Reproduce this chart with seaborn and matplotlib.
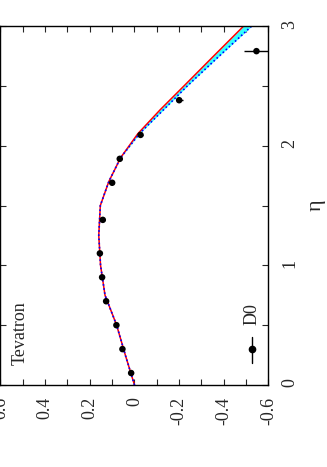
"""Rotated asymmetry vs eta plot (Tevatron, D0)."""

import matplotlib
matplotlib.use("Agg")
import matplotlib.pyplot as plt
from matplotlib.ticker import MultipleLocator
import pandas as pd
import seaborn as sns

# theory curves
eta_curve = [0.0, 0.25, 0.5, 0.75, 1.0, 1.25, 1.5, 1.7, 1.9, 2.1, 2.3, 2.5, 2.75, 3.0]
red_curve = [0.0, 0.041, 0.08, 0.132, 0.152, 0.16, 0.153, 0.115, 0.062, -0.015, -0.115, -0.222, -0.355, -0.489]
blue_curve = [0.0, 0.041, 0.08, 0.132, 0.152, 0.16, 0.153, 0.115, 0.062, -0.022, -0.13, -0.237, -0.38, -0.525]

# D0 data points
d0_eta = [0.1, 0.3, 0.5, 0.7, 0.9, 1.1, 1.38, 1.69, 1.89, 2.09, 2.38, 2.79]
d0_val = [0.015, 0.054, 0.081, 0.127, 0.145, 0.155, 0.142, 0.100, 0.066, -0.027, -0.20, -0.546]
d0_err = [0.008, 0.008, 0.008, 0.008, 0.008, 0.008, 0.01, 0.01, 0.01, 0.012, 0.015, 0.055]

val_ticks = [0.6, 0.4, 0.2, 0.0, -0.2, -0.4, -0.6]
val_labels = ["0.6", "0.4", "0.2", "0", "-0.2", "-0.4", "-0.6"]
eta_ticks = [0, 1, 2, 3]
eta_labels = ["0", "1", "2", "3"]

sns.set_theme(style="ticks")
plt.rcParams["font.family"] = ["Liberation Serif", "DejaVu Serif"]
plt.rcParams["axes.unicode_minus"] = False

curves = pd.DataFrame({"eta": eta_curve, "red": red_curve, "blue": blue_curve})
points = pd.DataFrame({"eta": d0_eta, "val": d0_val, "err": d0_err})

fig = plt.figure(figsize=(3.27, 4.67), dpi=100)
ax = fig.add_axes([0.0015, 0.1756, 0.8196, 0.7687])

ax.fill_betweenx(curves["eta"], curves["red"], curves["blue"], color="#33ffff", lw=0)
sns.lineplot(data=curves, x="red", y="eta", orient="y", sort=False, color="red", lw=1.1, ax=ax)
sns.lineplot(data=curves, x="blue", y="eta", orient="y", sort=False, color="blue", lw=1.2,
             linestyle=(0, (1, 1.5)), ax=ax)
ax.errorbar(points["val"], points["eta"], xerr=points["err"], fmt="none", ecolor="black",
            elinewidth=1.0, capsize=0)
sns.scatterplot(data=points, x="val", y="eta", color="black", s=22, edgecolor="none", ax=ax, zorder=5)

ax.set_xlim(0.6, -0.6)
ax.set_ylim(0, 3)
ax.set_xticks(val_ticks)
ax.set_xticklabels(val_labels)
ax.set_yticks(eta_ticks)
ax.set_yticklabels(eta_labels)
ax.xaxis.set_minor_locator(MultipleLocator(0.1))
ax.yaxis.set_minor_locator(MultipleLocator(0.5))

ax.tick_params(axis="x", which="both", direction="in", top=True, bottom=True, length=4,
               width=0.8, pad=8.5, labelsize=13, labelrotation=90)
ax.tick_params(axis="y", which="both", direction="in", left=True, right=True, labelleft=False,
               labelright=True, length=4, width=0.8, pad=9, labelsize=13, labelrotation=90)
for s in ax.spines.values():
    s.set_color("black")
    s.set_linewidth(1.0)

ax.set_xlabel("")
ax.yaxis.set_label_position("right")
ax.set_ylabel("η", rotation=90, fontsize=16, labelpad=6)

ax.text(0.075, 0.145, "Tevatron", transform=ax.transAxes, rotation=90, fontsize=13,
        ha="center", va="center")

# legend drawn by hand, rotated like the rest of the chart
ax.plot([0.94, 0.94], [0.061, 0.134], transform=ax.transAxes, color="black", lw=1.0)
ax.plot([0.94], [0.100], transform=ax.transAxes, marker="o", ms=4.5, color="black")
ax.text(0.94, 0.198, "D0", transform=ax.transAxes, rotation=90, fontsize=13,
        ha="center", va="center")

fig.savefig("out.png", dpi=100)
plt.close(fig)
